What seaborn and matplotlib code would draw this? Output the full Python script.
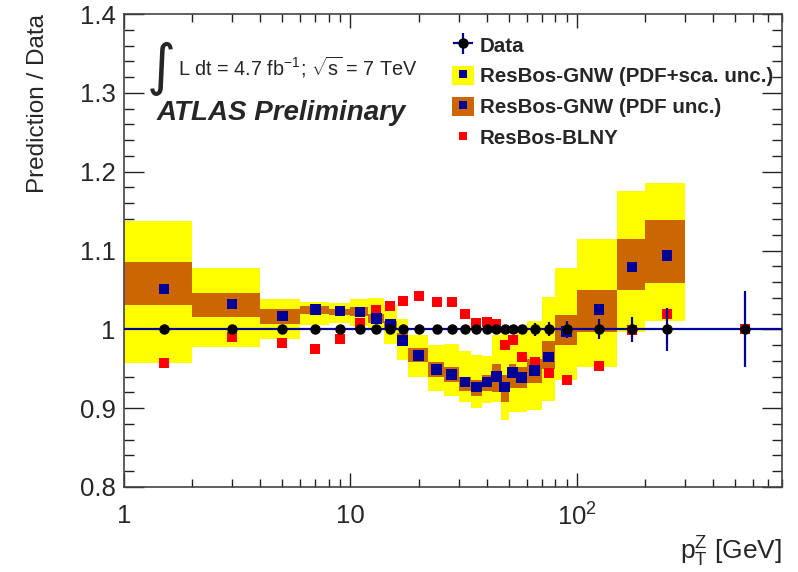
import numpy as np
import pandas as pd
import matplotlib
matplotlib.use("Agg")
import matplotlib.pyplot as plt
import seaborn as sns
from matplotlib.patches import Patch
from matplotlib.lines import Line2D
from matplotlib.ticker import FixedLocator, NullFormatter, FixedFormatter

# ---- pT(Z) binning ----
bin_lo = [1, 2, 4, 6, 8, 10, 12, 14, 16, 18, 22, 26, 30, 34, 38, 42, 46, 50, 54, 60, 70, 80, 100, 150, 200, 300]
bin_hi = [2, 4, 6, 8, 10, 12, 14, 16, 18, 22, 26, 30, 34, 38, 42, 46, 50, 54, 60, 70, 80, 100, 150, 200, 300, 800]
pt_center = [1.5, 3, 5, 7, 9, 11, 13, 15, 17, 20, 24, 28, 32, 36, 40, 44, 48, 52, 57, 65, 75, 90, 125, 175, 250, 550]

# ---- data (ratio to itself) ----
data_ratio = [1.0, 1.0, 1.0, 1.0, 1.0, 1.0, 1.0, 1.0, 1.0, 1.0, 1.0, 1.0, 1.0,
              1.0, 1.0, 1.0, 1.0, 1.0, 1.0, 1.0, 1.0, 1.0, 1.0, 1.0, 1.0, 1.0]
data_err = [0.003, 0.003, 0.003, 0.003, 0.003, 0.003, 0.003, 0.003, 0.003, 0.003, 0.003, 0.004, 0.004,
            0.005, 0.005, 0.006, 0.006, 0.006, 0.006, 0.008, 0.009, 0.011, 0.0125, 0.016, 0.027, 0.048]

# ---- ResBos-GNW prediction / data ----
gnw_central = [1.051, 1.032, 1.017, 1.025, 1.023, 1.022, 1.014, 1.006, 0.986, 0.967, 0.949, 0.943, 0.933,
               0.927, 0.933, 0.940, 0.927, 0.945, 0.939, 0.948, 0.965, 0.997, 1.025, 1.079, 1.094]
gnw_pdf_lo = [1.031, 1.016, 1.007, 1.019, 1.018, 1.017, 1.008, 1.002, 0.979, 0.958, 0.939, 0.933, 0.922,
              0.916, 0.922, 0.920, 0.908, 0.925, 0.925, 0.932, 0.950, 0.980, 0.996, 1.050, 1.059]
gnw_pdf_hi = [1.086, 1.046, 1.026, 1.029, 1.026, 1.028, 1.020, 1.011, 0.995, 0.976, 0.958, 0.952, 0.939,
              0.936, 0.942, 0.956, 0.942, 0.956, 0.952, 0.962, 0.985, 1.018, 1.050, 1.114, 1.139]
gnw_tot_lo = [0.957, 0.977, 0.988, 1.006, 1.008, 1.004, 1.000, 0.981, 0.961, 0.939, 0.922, 0.916, 0.908,
              0.900, 0.906, 0.908, 0.885, 0.895, 0.895, 0.898, 0.909, 0.936, 0.952, 0.996, 1.011]
gnw_tot_hi = [1.137, 1.078, 1.038, 1.035, 1.033, 1.038, 1.040, 1.031, 1.013, 0.993, 0.980, 0.981, 0.973,
              0.967, 0.966, 0.993, 1.000, 0.989, 0.995, 1.011, 1.041, 1.078, 1.115, 1.175, 1.185]

# ---- ResBos-BLNY prediction / data ----
blny = [0.957, 0.990, 0.983, 0.975, 0.988, 1.008, 1.025, 1.030, 1.036, 1.042, 1.035, 1.035, 1.020,
        1.008, 1.009, 1.007, 0.980, 0.986, 0.965, 0.959, 0.945, 0.936, 0.954, 0.999, 1.020, 1.000]

YELLOW = "#ffff00"
ORANGE = "#cc6600"
NAVY = "#000099"
RED = "#ff0000"

sns.set_theme(style="ticks")
plt.rcParams["font.family"] = ["Liberation Sans", "DejaVu Sans"]
plt.rcParams["mathtext.fontset"] = "custom"
plt.rcParams["mathtext.rm"] = "Liberation Sans"
plt.rcParams["mathtext.it"] = "Liberation Sans:italic"
plt.rcParams["mathtext.bf"] = "Liberation Sans:bold"

W, H = 798, 572
fig = plt.figure(figsize=(W / 100, H / 100), dpi=100)
ax = fig.add_axes([124 / W, 1 - 487 / H, (781.5 - 124) / W, (487 - 14) / H])

n_gnw = len(gnw_central)
lo = np.array(bin_lo[:n_gnw], dtype=float)
hi = np.array(bin_hi[:n_gnw], dtype=float)

# uncertainty boxes per bin
ax.bar(lo, np.array(gnw_tot_hi) - np.array(gnw_tot_lo), width=hi - lo, bottom=gnw_tot_lo,
       align="edge", color=YELLOW, linewidth=0, zorder=1)
ax.bar(lo, np.array(gnw_pdf_hi) - np.array(gnw_pdf_lo), width=hi - lo, bottom=gnw_pdf_lo,
       align="edge", color=ORANGE, linewidth=0, zorder=2)

pred = pd.DataFrame({"pt": pt_center[:n_gnw], "ratio": gnw_central})
alt = pd.DataFrame({"pt": pt_center, "ratio": blny})

sns.scatterplot(data=alt, x="pt", y="ratio", marker="s", s=52, color=RED,
                edgecolor="none", linewidth=0, ax=ax, zorder=3, legend=False)
sns.scatterplot(data=pred, x="pt", y="ratio", marker="s", s=58, color=NAVY,
                edgecolor="none", linewidth=0, ax=ax, zorder=4, legend=False)

xc = np.array(pt_center)
xerr = [xc - np.array(bin_lo), np.array(bin_hi) - xc]
data_handle = ax.errorbar(xc, data_ratio, xerr=xerr, yerr=data_err, fmt="o", color="black",
                          markersize=6.5, ecolor=NAVY, elinewidth=1.6, capsize=0, zorder=5)

ax.set_xscale("log")
ax.set_xlim(1, 800)
ax.set_ylim(0.8, 1.4)

ax.xaxis.set_major_locator(FixedLocator([1, 10, 100]))
ax.xaxis.set_major_formatter(FixedFormatter(["1", "10", "$10^{2}$"]))
minor_x = [m * d for d in (1, 10, 100) for m in range(2, 10) if m * d <= 800]
ax.xaxis.set_minor_locator(FixedLocator(minor_x))
ax.xaxis.set_minor_formatter(NullFormatter())
ax.yaxis.set_major_locator(FixedLocator([0.8, 0.9, 1.0, 1.1, 1.2, 1.3, 1.4]))
ax.yaxis.set_major_formatter(FixedFormatter(["0.8", "0.9", "1", "1.1", "1.2", "1.3", "1.4"]))
ax.yaxis.set_minor_locator(FixedLocator(np.arange(0.8, 1.401, 0.02)))

ax.tick_params(axis="both", which="both", direction="in", top=True, right=True,
               color="#222222", width=1.0)
ax.tick_params(axis="y", which="major", length=14.5, labelsize=18.5, pad=6)
ax.tick_params(axis="y", which="minor", length=7.2)
ax.tick_params(axis="x", which="major", length=10, labelsize=18.5, pad=12)
ax.tick_params(axis="x", which="minor", length=5.5)
for s in ax.spines.values():
    s.set_color("#444444")
    s.set_linewidth(1.2)

ax.set_ylabel("Prediction / Data", loc="top", fontsize=17.5, labelpad=22)
ax.set_xlabel(r"p$_{\mathrm{T}}^{\mathrm{Z}}$ [GeV]", loc="right", fontsize=19, labelpad=3)

# luminosity / energy and experiment label
fig.text(161 / W, 1 - 84 / H, "\u222b", fontsize=40, family=["DejaVu Sans"], va="baseline", ha="center")
fig.text(178 / W, 1 - 75 / H, r"L dt = 4.7 fb$^{\mathrm{-1}}$; $\sqrt{\mathrm{s}}$ = 7 TeV",
         fontsize=14.3, va="baseline", ha="left")
fig.text(157 / W, 1 - 120 / H, "ATLAS Preliminary", fontsize=20, fontweight="bold",
         fontstyle="italic", va="baseline", ha="left")

# legend
sq_kw = dict(marker="s", linestyle="none", markersize=5.5, markeredgewidth=0)
handles = [
    data_handle,
    (Patch(facecolor=YELLOW, edgecolor="none"), Line2D([], [], color=NAVY, **sq_kw)),
    (Patch(facecolor=ORANGE, edgecolor="none"), Line2D([], [], color=NAVY, **sq_kw)),
    Line2D([], [], color=RED, **sq_kw),
]
labels = ["Data", "ResBos-GNW (PDF+sca. unc.)", "ResBos-GNW (PDF unc.)", "ResBos-BLNY"]
fig.legend(handles, labels, loc="upper left", bbox_to_anchor=(452 / W, 1 - 35 / H),
           frameon=False, prop={"weight": "bold", "size": 14.8}, handlelength=1.05,
           handleheight=1.05, handletextpad=0.3, labelspacing=0.5, borderpad=0,
           borderaxespad=0)

fig.savefig("out.png", dpi=100, facecolor="white")
